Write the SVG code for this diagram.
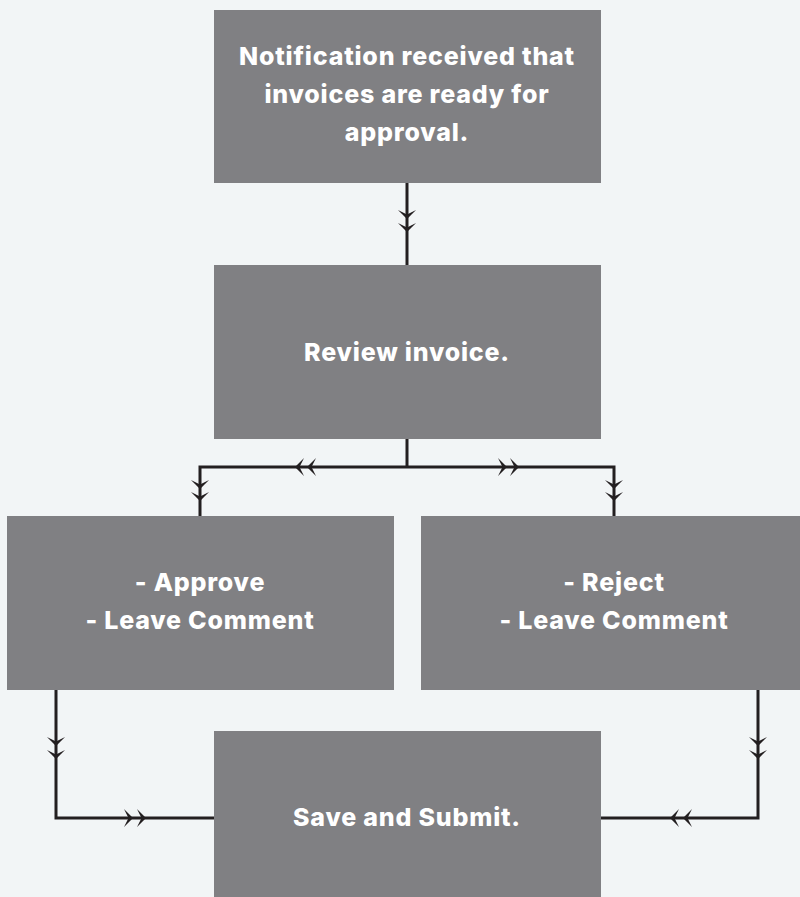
<svg xmlns="http://www.w3.org/2000/svg" xmlns:xlink="http://www.w3.org/1999/xlink" width="800" height="897" viewBox="0 0 800 897">
<style>
.box{fill:#808083}
.t{font-family:Inter,"Liberation Sans",sans-serif;font-weight:800;font-size:25px;letter-spacing:0.8px;fill:#ffffff;text-anchor:middle}
.ln{fill:none;stroke:#231f20;stroke-width:3;stroke-linejoin:miter}
.ch{fill:#231f20}
</style>
<defs>
<path id="chev" d="M-9,-9 L0,0 L9,-9 L0,-4.5 Z"/>
</defs>
<rect width="800" height="897" fill="#f2f5f6"/>
<g id="connectors">
<path class="ln" d="M407,183 V265"/>
<path class="ln" d="M407,439 V467 M200,516 V467 H614 V516"/>
<path class="ln" d="M56,690 V818 H214"/>
<path class="ln" d="M758,690 V818 H601"/>
<g class="ch">
<use xlink:href="#chev" transform="translate(407,219)"/>
<use xlink:href="#chev" transform="translate(407,232)"/>
<use xlink:href="#chev" transform="translate(200,489)"/>
<use xlink:href="#chev" transform="translate(200,501)"/>
<use xlink:href="#chev" transform="translate(614,489)"/>
<use xlink:href="#chev" transform="translate(614,501)"/>
<use xlink:href="#chev" transform="translate(295,467) rotate(90)"/>
<use xlink:href="#chev" transform="translate(307,467) rotate(90)"/>
<use xlink:href="#chev" transform="translate(519,467) rotate(-90)"/>
<use xlink:href="#chev" transform="translate(507,467) rotate(-90)"/>
<use xlink:href="#chev" transform="translate(56,746)"/>
<use xlink:href="#chev" transform="translate(56,759)"/>
<use xlink:href="#chev" transform="translate(758,746)"/>
<use xlink:href="#chev" transform="translate(758,759)"/>
<use xlink:href="#chev" transform="translate(133,818) rotate(-90)"/>
<use xlink:href="#chev" transform="translate(146,818) rotate(-90)"/>
<use xlink:href="#chev" transform="translate(670,818) rotate(90)"/>
<use xlink:href="#chev" transform="translate(683,818) rotate(90)"/>
</g>
</g>
<g id="n1"><rect class="box" x="214" y="10" width="387" height="173"/>
<text class="t" x="407" y="65">Notification received that</text>
<text class="t" x="407" y="103">invoices are ready for</text>
<text class="t" x="407" y="141">approval.</text></g>
<g id="n2"><rect class="box" x="214" y="265" width="387" height="174"/>
<text class="t" x="407" y="361">Review invoice.</text></g>
<g id="n3"><rect class="box" x="7" y="516" width="387" height="174"/>
<text class="t" x="200" y="591">- Approve</text>
<text class="t" x="200" y="629">- Leave Comment</text></g>
<g id="n4"><rect class="box" x="421" y="516" width="379" height="174"/>
<text class="t" x="614" y="591">- Reject</text>
<text class="t" x="614" y="629">- Leave Comment</text></g>
<g id="n5"><rect class="box" x="214" y="731" width="387" height="166"/>
<text class="t" x="407" y="826">Save and Submit.</text></g>
</svg>
